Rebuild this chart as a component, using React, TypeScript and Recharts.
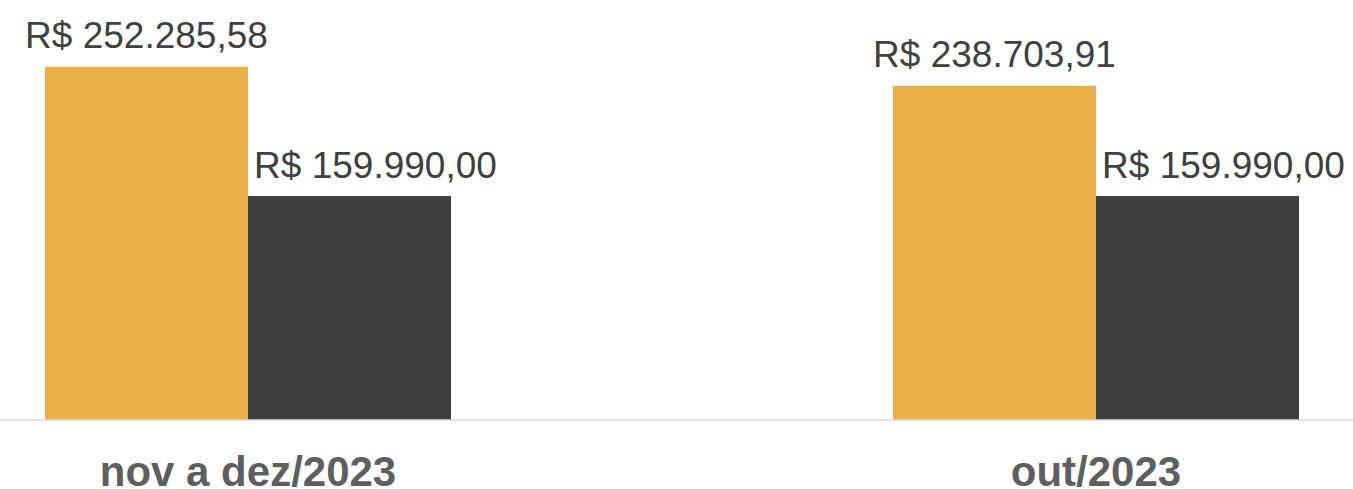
import React from "react";
import { BarChart, Bar, XAxis, YAxis, LabelList } from "recharts";

const categories = ["nov a dez/2023", "out/2023"];
const orcado = [252285.58, 238703.91];
const realizado = [159990.0, 159990.0];

const data = categories.map((c, i) => ({ name: c, a: orcado[i], b: realizado[i] }));

const fmt = (v: number) => {
  const [int, dec] = v.toFixed(2).split(".");
  const withDots = int.replace(/\B(?=(\d{3})+(?!\d))/g, ".");
  return `R$ ${withDots},${dec}`;
};

const FONT = "'Liberation Sans', Arial, sans-serif";

const makeLabel = (dx: number, gap: number) => (props: any) => {
  const { x, y, width, value } = props;
  return (
    <text
      x={Number(x) + Number(width) / 2 + dx}
      y={Number(y) - gap}
      textAnchor="middle"
      fontFamily={FONT}
      fontSize={37}
      fill="#404040"
    >
      {fmt(Number(value))}
    </text>
  );
};

const Tick = (props: any) => {
  const { x, y, payload } = props;
  return (
    <text
      x={x}
      y={y}
      dy={66}
      textAnchor="middle"
      fontFamily={FONT}
      fontSize={42}
      fontWeight="bold"
      fill="#5f5f5f"
    >
      {payload.value}
    </text>
  );
};

export default function App() {
  return (
    <div
      style={{
        position: "absolute",
        left: 0,
        top: 0,
        width: 1353,
        height: 489,
        overflow: "hidden",
        background: "#fff",
      }}
    >
      <div style={{ position: "absolute", left: -176, top: 0 }}>
        <BarChart
          width={1696}
          height={489}
          data={data}
          margin={{ top: 0, right: 0, bottom: 0, left: 0 }}
          barCategoryGap={221}
          barGap={0}
        >
          <XAxis
            dataKey="name"
            height={69}
            tickLine={false}
            tickSize={0}
            tickMargin={0}
            axisLine={{ stroke: "#d9d9d9", strokeWidth: 1.5 }}
            tick={<Tick />}
            interval={0}
          />
          <YAxis hide domain={[0, 300000]} />
          <Bar dataKey="a" fill="#EAAF47" isAnimationActive={false}>
            <LabelList dataKey="a" content={makeLabel(0, 19)} />
          </Bar>
          <Bar dataKey="b" fill="#404040" isAnimationActive={false}>
            <LabelList dataKey="b" content={makeLabel(26, 18)} />
          </Bar>
        </BarChart>
      </div>
    </div>
  );
}
